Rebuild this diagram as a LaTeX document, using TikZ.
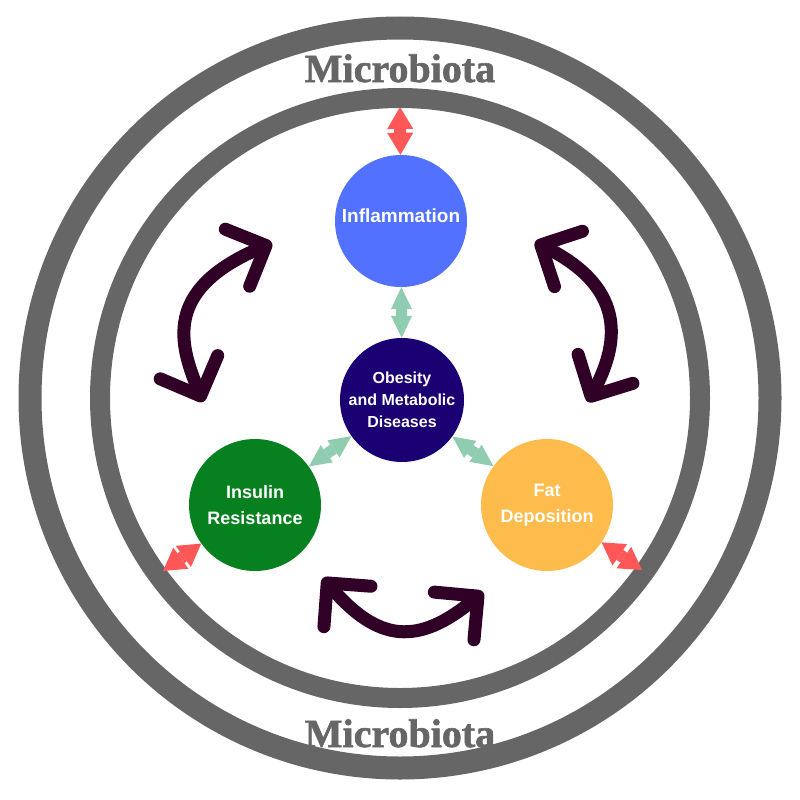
\documentclass[tikz,border=0pt]{standalone}
\usepackage{fontspec}
\setmainfont{Liberation Sans}
\newfontfamily\titlefont{Liberation Serif}[BoldFeatures={FakeBold=1.5}]
\usepackage{tikz}
\usetikzlibrary{arrows.meta}

\definecolor{ringgray}{HTML}{666666}
\definecolor{inflamblue}{HTML}{5271FF}
\definecolor{obesenavy}{HTML}{1A0072}
\definecolor{insulingreen}{HTML}{078020}
\definecolor{fatorange}{HTML}{FDBC4B}
\definecolor{linkgreen}{HTML}{8FCCB0}
\definecolor{pokered}{HTML}{FF5757}
\definecolor{loopdark}{HTML}{300026}

\begin{document}
\begin{tikzpicture}[x=1pt,y=-1pt,
    bubble/.style={circle,minimum size=132pt,inner sep=0pt,text=white,align=center,font=\bfseries\fontsize{18}{26}\selectfont},
    ringline/.style={draw=ringgray},
    microlabel/.style={anchor=base,text=ringgray,font=\titlefont\bfseries\fontsize{40}{40}\selectfont},
    greenlink/.style={draw=linkgreen,line width=11pt,{Triangle[length=22pt,width=21pt,line width=0pt]}-{Triangle[length=22pt,width=21pt,line width=0pt]}},
    redlink/.style={draw=pokered,line width=12pt,{Triangle[length=22pt,width=26pt,line width=0pt]}-{Triangle[length=22pt,width=26pt,line width=0pt]}},
    loopline/.style={draw=loopdark,line width=13pt,{Straight Barb[length=31pt,width=62pt,line width=13pt,round]}-{Straight Barb[length=31pt,width=62pt,line width=13pt,round]}}]
    \useasboundingbox (0,0) rectangle (800,800);

    % the two rings
    \coordinate (centre) at (400,398);
    \draw[ringline,line width=23pt] (centre) circle[radius=370];
    \draw[ringline,line width=20pt] (centre) circle[radius=300];
    \node[microlabel] (microtop) at (400,82) {Microbiota};
    \node[microlabel] (microbottom) at (400,747) {Microbiota};

    % circles
    \node[bubble,fill=inflamblue,text depth=10pt,font=\bfseries\fontsize{19}{26}\selectfont] (inflam) at (401,221) {Inflammation};
    \node[bubble,fill=obesenavy,minimum size=124pt,font=\bfseries\fontsize{16}{22}\selectfont] (obesity) at (402,400) {Obesity\\and Metabolic\\Diseases};
    \node[bubble,fill=insulingreen] (insulin) at (255,505) {Insulin\\Resistance};
    \node[bubble,fill=fatorange] (fat) at (547,505) {Fat\\Deposition};

    % links to the centre
    \draw[greenlink] (obesity) -- (inflam);
    \draw[greenlink] (obesity) -- (insulin);
    \draw[greenlink] (obesity) -- (fat);

    % links to the ring
    \coordinate (ringtop) at (400,107);
    \coordinate (ringleft) at (163,571);
    \coordinate (ringright) at (642,570);
    \draw[redlink] (inflam) -- (ringtop);
    \draw[redlink] (insulin) -- (ringleft);
    \draw[redlink] (fat) -- (ringright);

    % curved arrows
    \coordinate (leftlow) at (203,402);
    \coordinate (lefthigh) at (272,243);
    \coordinate (rightlow) at (588,402);
    \coordinate (righthigh) at (535,242);
    \coordinate (bottomleft) at (323,578);
    \coordinate (bottomright) at (483,592);
    \draw[loopline] (leftlow) .. controls (180,345) and (162,290) .. (lefthigh);
    \draw[loopline] (rightlow) .. controls (617,347) and (630,290) .. (righthigh);
    \draw[loopline] (bottomleft) .. controls (378,642) and (418,646) .. (bottomright);
\end{tikzpicture}
\end{document}
